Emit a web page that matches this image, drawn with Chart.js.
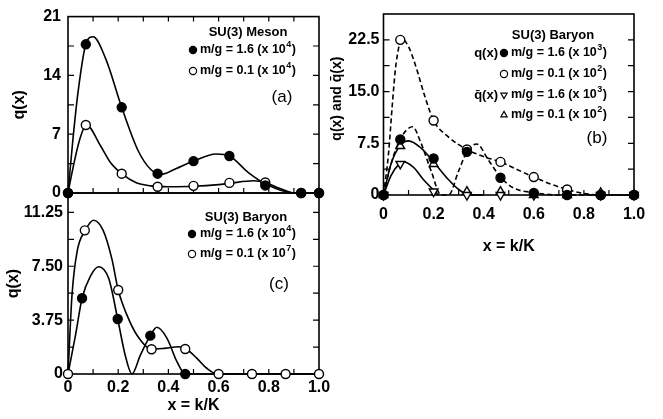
<!DOCTYPE html>
<html>
<head>
<meta charset="utf-8">
<script src="https://cdn.jsdelivr.net/npm/chart.js@4.4.1/dist/chart.umd.min.js"></script>
<style>
  body { margin: 0; background: #fff; }
  #wrap { position: relative; width: 663px; height: 419px; }
  canvas { position: absolute; left: 0; top: 0; }
</style>
</head>
<body>
<div id="wrap">
  <canvas id="chartC" width="663" height="419"></canvas>
  <canvas id="chartA" width="663" height="419"></canvas>
  <canvas id="chartB" width="663" height="419"></canvas>
</div>
<script>
// x = k/K of the computed points
const xK14 = [0, 0.071, 0.214, 0.357, 0.5, 0.643, 0.786, 0.929, 1.0];
const xK15 = [0, 0.067, 0.2, 0.333, 0.467, 0.6, 0.733, 0.867, 1.0];

// (a) SU(3) meson
const mesonHeavy = [0, 17.7, 10.2, 2.3, 3.8, 4.4, 0.9, 0, 0];     // m/g = 1.6 (x10^4)
const mesonLight = [0, 8.1, 2.3, 0.75, 0.85, 1.2, 1.25, 0, 0];    // m/g = 0.1 (x10^4)
// the drawn curves
const mesonHeavyCurveX = [0, 0.02, 0.04, 0.071, 0.1, 0.15, 0.214, 0.28, 0.33, 0.375, 0.43, 0.5, 0.59, 0.643, 0.72, 0.786, 0.9, 1.0];
const mesonHeavyCurveY = [0, 6.5, 12, 17.7, 18.6, 16, 10.2, 5.0, 2.8, 2.25, 2.9, 3.8, 4.65, 4.4, 2.4, 1.1, 0, 0];
const mesonLightCurveX = [0, 0.02, 0.045, 0.073, 0.13, 0.17, 0.214, 0.27, 0.33, 0.4, 0.5, 0.6, 0.643, 0.74, 0.786, 0.84, 0.9, 1.0];
const mesonLightCurveY = [0, 3, 6.2, 8.1, 5.6, 3.6, 2.3, 1.25, 0.85, 0.75, 0.8, 1.0, 1.15, 1.45, 1.25, 0.6, 0, 0];
const aYTicks = [0, 7, 14, 21];
const aYLabels = ['0', '7', '14', '21'];

// (b) SU(3) baryon, q(x) and qbar(x)
const bQHeavy = [0, 8.05, 5.3, 6.26, 2.5, 0.3, 0, 0, 0];      // q(x), m/g = 1.6 (x10^3)
const bQLight = [0, 22.5, 10.8, 6.6, 4.8, 2.6, 0.8, 0, 0];    // q(x), m/g = 0.1 (x10^2)
const bQbarHeavy = [0, 4.5, 0.5, 0, 0, 0, 0.2, 0, 0];         // qbar(x), m/g = 1.6 (x10^3)
const bQbarLight = [0, 7.1, 4.5, 0.5, 0.5, 0, 0, 0.3, 0];     // qbar(x), m/g = 0.1 (x10^2)
const bQLightCurveX = [0, 0.02, 0.035, 0.05, 0.075, 0.1, 0.126, 0.166, 0.2, 0.26, 0.333, 0.406, 0.467, 0.533, 0.6, 0.667, 0.733, 0.8, 0.867, 1.0];
const bQLightCurveY = [0, 6, 13, 19, 22.6, 21.5, 19, 14.2, 10.8, 8.4, 6.6, 5.5, 4.8, 3.7, 2.6, 1.6, 0.8, 0.2, 0, 0];
const bQHeavyCurveX = [0, 0.03, 0.067, 0.116, 0.15, 0.19, 0.23, 0.26, 0.3, 0.333, 0.372, 0.42, 0.467, 0.52, 0.6, 0.7, 1.0];
const bQHeavyCurveY = [0, 4.5, 8.1, 9.9, 7.5, 3.5, 0, 0, 3.5, 6.26, 7.4, 5.0, 2.6, 1.0, 0.35, 0, 0];
const bQbarLightCurveX = [0, 0.03, 0.067, 0.1, 0.15, 0.2, 0.26, 0.3, 0.34, 0.4];
const bQbarLightCurveY = [0, 4.5, 7.2, 7.85, 6.8, 4.8, 2.2, 0.8, 0.05, 0];
const bQbarHeavyCurveX = [0, 0.03, 0.06, 0.08, 0.12, 0.16, 0.2, 0.22];
const bQbarHeavyCurveY = [0, 2.8, 4.4, 4.8, 4.0, 2.2, 0.7, 0];
const bYTicks = [0, 7.5, 15, 22.5];
const bYLabels = ['0', '7.5', '15.0', '22.5'];

// (c) SU(3) baryon
const cHeavyX = [0.056, 0.198, 0.328, 0.467];
const cHeavy = [5.27, 3.83, 2.67, 0];                          // m/g = 1.6 (x10^4)
const cLight = [0, 10.0, 5.85, 1.72, 1.74, 0, 0, 0, 0];        // m/g = 0.1 (x10^7)
const cHeavyCurveX = [0, 0.03, 0.056, 0.089, 0.122, 0.162, 0.198, 0.228, 0.255, 0.288, 0.328, 0.354, 0.394, 0.434, 0.467, 1.0];
const cHeavyCurveY = [0, 2.7, 5.27, 6.8, 7.47, 6.66, 3.83, 1.3, 0, 1.3, 2.67, 3.25, 2.5, 0.86, 0, 0];
const cLightCurveX = [0, 0.016, 0.036, 0.069, 0.102, 0.14, 0.175, 0.2, 0.235, 0.275, 0.334, 0.39, 0.44, 0.471, 0.513, 0.553, 0.595, 1.0];
const cLightCurveY = [0, 5.5, 8.5, 10.0, 10.7, 10.0, 8.0, 5.85, 4.1, 2.7, 1.72, 1.8, 1.9, 1.74, 1.1, 0.4, 0, 0];
const cYTicks = [0, 3.75, 7.5, 11.25];
const cYLabels = ['0', '3.75', '7.50', '11.25'];

const xTicks = [0, 0.2, 0.4, 0.6, 0.8, 1.0];
const xLabels = ['0', '0.2', '0.4', '0.6', '0.8', '1.0'];

const FONT = '"Liberation Sans", Arial, sans-serif';
Chart.defaults.font.family = FONT;
Chart.defaults.color = '#000';
const tickFont = { size: 16, weight: 'bold' };

const pts = (xs, ys) => xs.map((x, i) => ({ x: x, y: ys[i] }));

function curve(xs, ys, dashed) {
  return {
    data: pts(xs, ys), showLine: true, pointRadius: 0, borderColor: '#000',
    borderWidth: 1.6, borderDash: dashed ? [5, 3] : [], cubicInterpolationMode: 'monotone',
    clip: false, order: 2
  };
}

function markers(xs, ys, kind) {
  return {
    data: pts(xs, ys), showLine: false, clip: false, order: 1,
    pointStyle: kind === 'up' || kind === 'down' ? 'triangle' : 'circle',
    rotation: kind === 'down' ? 180 : 0,
    pointRadius: kind === 'up' || kind === 'down' ? 5 : 4.5,
    pointBackgroundColor: kind === 'filled' ? '#000' : '#fff',
    pointBorderColor: '#000', pointBorderWidth: 1.4
  };
}

// box round the plot with small inward ticks
const frameTicks = {
  id: 'frameTicks',
  beforeDatasetsDraw(chart, args, opts) {
    if (!opts || !opts.sides) return;
    const { ctx, chartArea: a } = chart;
    const xs = chart.scales.x, ys = chart.scales.y;
    ctx.save();
    ctx.strokeStyle = '#000';
    ctx.lineWidth = 1.6;
    ctx.strokeRect(a.left, a.top, a.width, a.height);
    ctx.lineWidth = 1.2;
    ctx.beginPath();
    for (let v = opts.xStep; v < xs.max - 1e-6; v += opts.xStep) {
      const px = xs.getPixelForValue(v);
      if (opts.sides.includes('bottom')) { ctx.moveTo(px, a.bottom); ctx.lineTo(px, a.bottom - 5); }
      if (opts.sides.includes('top')) { ctx.moveTo(px, a.top); ctx.lineTo(px, a.top + 5); }
    }
    for (let v = opts.yStep; v < ys.max - 1e-6; v += opts.yStep) {
      const py = ys.getPixelForValue(v);
      if (opts.sides.includes('left')) { ctx.moveTo(a.left, py); ctx.lineTo(a.left + 6, py); }
      if (opts.sides.includes('right')) { ctx.moveTo(a.right, py); ctx.lineTo(a.right - 6, py); }
    }
    ctx.stroke();
    ctx.restore();
  }
};
Chart.register(frameTicks);

function drawMarker(ctx, kind, x, y, r) {
  ctx.fillStyle = kind === 'filled' ? '#000' : '#fff';
  ctx.strokeStyle = '#000';
  ctx.lineWidth = 1.2;
  Chart.helpers.drawPoint(ctx, {
    pointStyle: kind === 'up' || kind === 'down' ? 'triangle' : 'circle',
    radius: r, rotation: kind === 'down' ? 180 : 0, borderWidth: 1.2
  }, x, y);
}

// legend text inside each panel
function panelLegend(spec) {
  return {
    id: 'legend' + spec.tag,
    afterDatasetsDraw(chart) {
      const ctx = chart.ctx;
      ctx.save();
      ctx.textBaseline = 'middle';
      ctx.fillStyle = '#000';
      ctx.textAlign = 'center';
      ctx.font = 'bold 13px ' + FONT;
      ctx.fillText(spec.title, spec.titleX, spec.titleY);
      spec.rows.forEach(r => {
        if (r.label) {
          ctx.fillStyle = '#000';
          ctx.textAlign = 'right';
          ctx.font = 'bold 13px ' + FONT;
          ctx.fillText(r.label, r.labelX, r.y);
        }
        drawMarker(ctx, r.kind, r.mx, r.y, 3.6);
        ctx.fillStyle = '#000';
        ctx.textAlign = 'left';
        ctx.font = 'bold 12.5px ' + FONT;
        let x = r.tx;
        ctx.fillText(r.text, x, r.y);
        x += ctx.measureText(r.text).width + 0.5;
        ctx.font = 'bold 9px ' + FONT;
        ctx.fillText(r.sup, x, r.y - 5);
        x += ctx.measureText(r.sup).width + 0.5;
        ctx.font = 'bold 12.5px ' + FONT;
        ctx.fillText(')', x, r.y);
      });
      ctx.textAlign = 'center';
      ctx.font = '17px ' + FONT;
      ctx.fillText(spec.tag, spec.tagX, spec.tagY);
      ctx.restore();
    }
  };
}

function yAxis(max, ticks, labels, width, pad, title, titlePad, titleSize) {
  return {
    type: 'linear', min: 0, max: max,
    afterFit: s => { s.width = width; },
    afterBuildTicks: s => { s.ticks = ticks.map(v => ({ value: v })); },
    grid: { display: false, drawTicks: false }, border: { display: false },
    ticks: { padding: pad, font: tickFont, autoSkip: false, callback: (v, i) => labels[i] },
    title: { display: true, text: title, font: { size: titleSize, weight: 'bold' }, padding: { top: titlePad, bottom: 0 } }
  };
}

function xAxis(height, pad, titlePad) {
  return {
    type: 'linear', min: 0, max: 1,
    afterFit: s => { s.height = height; },
    afterBuildTicks: s => { s.ticks = xTicks.map(v => ({ value: v })); },
    grid: { display: false, drawTicks: false }, border: { display: false },
    ticks: { padding: pad, font: tickFont, autoSkip: false, maxRotation: 0, callback: (v, i) => xLabels[i] },
    title: { display: true, text: 'x = k/K', font: { size: 16, weight: 'bold' }, padding: { top: 0, bottom: titlePad } }
  };
}

function baseOptions(padding, scales, frame) {
  return {
    responsive: false, animation: false, events: [],
    layout: { autoPadding: false, padding: padding },
    plugins: { legend: { display: false }, tooltip: { enabled: false }, frameTicks: frame },
    scales: scales
  };
}

// panel (a)
new Chart(document.getElementById('chartA'), {
  type: 'scatter',
  data: {
    datasets: [
      curve(mesonHeavyCurveX, mesonHeavyCurveY, false),
      curve(mesonLightCurveX, mesonLightCurveY, false),
      markers(xK14, mesonHeavy, 'filled'),
      markers(xK14, mesonLight, 'open')
    ]
  },
  options: baseOptions({ left: 0, top: 13, right: 344, bottom: 226 }, {
    x: { type: 'linear', min: 0, max: 1, display: false },
    y: yAxis(21, aYTicks, aYLabels, 68, 7, 'q(x)', 10, 16)
  }, { xStep: 0.1, yStep: 3.5, sides: ['top', 'bottom', 'left', 'right'] }),
  plugins: [panelLegend({
    title: 'SU(3) Meson', titleX: 248, titleY: 32, tag: '(a)', tagX: 282, tagY: 97,
    rows: [
      { kind: 'filled', mx: 193, tx: 200, y: 50, text: 'm/g = 1.6 (x 10', sup: '4' },
      { kind: 'open', mx: 193, tx: 200, y: 71, text: 'm/g = 0.1 (x 10', sup: '4' }
    ]
  })]
});

// panel (c)
new Chart(document.getElementById('chartC'), {
  type: 'scatter',
  data: {
    datasets: [
      curve(cHeavyCurveX, cHeavyCurveY, false),
      curve(cLightCurveX, cLightCurveY, false),
      markers(cHeavyX, cHeavy, 'filled'),
      markers(xK15, cLight, 'open')
    ]
  },
  options: baseOptions({ left: 0, top: 193, right: 344, bottom: 0 }, {
    x: xAxis(45, 4, 4),
    y: yAxis(12.6, cYTicks, cYLabels, 68, 5, 'q(x)', 4, 16)
  }, { xStep: 0.1, yStep: 1.875, sides: ['bottom', 'left', 'right'] }),
  plugins: [panelLegend({
    title: 'SU(3) Baryon', titleX: 246, titleY: 217, tag: '(c)', tagX: 279, tagY: 284,
    rows: [
      { kind: 'filled', mx: 192, tx: 200, y: 234, text: 'm/g = 1.6 (x 10', sup: '4' },
      { kind: 'open', mx: 192, tx: 200, y: 254, text: 'm/g = 0.1 (x 10', sup: '7' }
    ]
  })]
});

// panel (b)
new Chart(document.getElementById('chartB'), {
  type: 'scatter',
  data: {
    datasets: [
      curve(bQLightCurveX, bQLightCurveY, true),
      curve(bQHeavyCurveX, bQHeavyCurveY, true),
      curve(bQbarLightCurveX, bQbarLightCurveY, false),
      curve(bQbarHeavyCurveX, bQbarHeavyCurveY, false),
      markers(xK15, bQHeavy, 'filled'),
      markers(xK15, bQLight, 'open'),
      markers(xK15, bQbarHeavy, 'down'),
      markers(xK15, bQbarLight, 'up')
    ]
  },
  options: baseOptions({ left: 320, top: 14, right: 29, bottom: 159 }, {
    x: xAxis(65, 10, 4),
    // leading spaces nudge the title a little above the middle, as in the figure
    y: yAxis(26.25, bYTicks, bYLabels, 63.5, 4, '   q(x) and q\u0304(x)', 8.5, 14)
  }, { xStep: 0.1, yStep: 3.75, sides: ['bottom', 'left', 'right'] }),
  plugins: [panelLegend({
    title: 'SU(3) Baryon', titleX: 553, titleY: 35, tag: '(b)', tagX: 597, tagY: 138,
    rows: [
      { kind: 'filled', label: 'q(x)', labelX: 498, mx: 504, tx: 511, y: 53, text: 'm/g = 1.6 (x 10', sup: '3' },
      { kind: 'open', mx: 504, tx: 511, y: 74, text: 'm/g = 0.1 (x 10', sup: '2' },
      { kind: 'down', label: 'q\u0304(x)', labelX: 498, mx: 504, tx: 511, y: 95, text: 'm/g = 1.6 (x 10', sup: '3' },
      { kind: 'up', mx: 504, tx: 511, y: 115, text: 'm/g = 0.1 (x 10', sup: '2' }
    ]
  })]
});
</script>
</body>
</html>
